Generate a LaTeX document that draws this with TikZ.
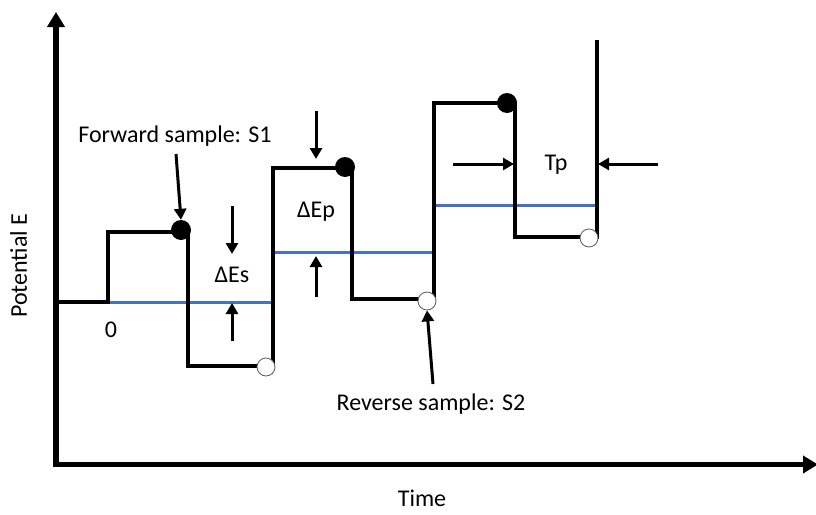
\documentclass[tikz,border=0pt]{standalone}
\usepackage{fontspec}
\setmainfont{Carlito}
\usetikzlibrary{arrows.meta}
\begin{document}
\begin{tikzpicture}[x=1pt,y=-1pt,
  axis/.style={line width=5.5pt,-{Triangle[length=15pt,width=17pt]}},
  wave/.style={line width=4pt,line join=miter},
  level/.style={line width=3pt,draw={rgb,255:red,68;green,114;blue,196}},
  marker/.style={line width=3pt,-{Triangle[length=11pt,width=12pt]}},
  fdot/.style={circle,fill=black,inner sep=0pt,minimum size=20pt},
  odot/.style={circle,fill=white,draw={rgb,255:red,90;green,90;blue,90},line width=0.8pt,inner sep=0pt,minimum size=18pt},
  lbl/.style={font=\fontsize{24}{28}\selectfont,inner sep=0pt,anchor=base}]
\useasboundingbox (0,0) rectangle (816,514);
% axes
\coordinate (ytop) at (56,12);
\coordinate (xend) at (818,464.5);
\draw[axis] (56,467.2) -- (ytop);
\draw[axis] (53.5,464.5) -- (xend);
% blue levels
\draw[level] (110,302) -- (272,302);
\draw[level] (275,252) -- (434,252);
\draw[level] (436,205) -- (597,205);
% waveform
\coordinate (w0) at (57,302);
\coordinate (w1) at (108,302);
\coordinate (w2) at (108,232);
\coordinate (w3) at (188,232);
\coordinate (w4) at (188,366);
\coordinate (w5) at (273,366);
\coordinate (w6) at (273,168);
\coordinate (w7) at (352,168);
\coordinate (w8) at (352,299);
\coordinate (w9) at (434,299);
\coordinate (w10) at (434,103);
\coordinate (w11) at (515,103);
\coordinate (w12) at (515,237);
\coordinate (w13) at (597,237);
\coordinate (w14) at (597,40);
\draw[wave] (w0) -- (w1) -- (w2) -- (w3) -- (w4) -- (w5) -- (w6) -- (w7) -- (w8) -- (w9) -- (w10) -- (w11) -- (w12) -- (w13) -- (w14);
% sample dots
\node[fdot] (f1) at (181,230) {};
\node[fdot] (f2) at (345,167) {};
\node[fdot] (f3) at (507,103) {};
\node[odot] (r1) at (266,367) {};
\node[odot] (r2) at (427,301) {};
\node[odot] (r3) at (589,238) {};
% labels
\node[lbl] (fs) at (175,142) {Forward sample: S1};
\node[lbl] (rs) at (431,410) {Reverse sample: S2};
\node[lbl] (zero) at (111,337) {0};
\node[lbl] (des) at (232,282) {ΔEs};
\node[lbl] (dep) at (316,217) {ΔEp};
\node[lbl] (tp) at (556,170) {Tp};
\node[lbl,rotate=90,anchor=base west] (pe) at (27,318) {Potential E};
\node[lbl] (time) at (422,506) {Time};
% pointer arrows
\coordinate (fsa) at (176,154);
\coordinate (rsa) at (433,384);
\draw[marker] (fsa) -- (f1.north);
\draw[marker] (rsa) -- (r2.south);
% delta Es
\coordinate (es1) at (232,206);
\coordinate (es2) at (232,254);
\coordinate (es3) at (232,341);
\coordinate (es4) at (232,303);
\draw[marker] (es1) -- (es2);
\draw[marker] (es3) -- (es4);
% delta Ep
\coordinate (ep1) at (316,111);
\coordinate (ep2) at (316,159);
\coordinate (ep3) at (316,297);
\coordinate (ep4) at (316,256);
\draw[marker] (ep1) -- (ep2);
\draw[marker] (ep3) -- (ep4);
% Tp
\coordinate (tp1) at (453,164);
\coordinate (tp2) at (514,164);
\coordinate (tp3) at (658,164);
\coordinate (tp4) at (598,164);
\draw[marker] (tp1) -- (tp2);
\draw[marker] (tp3) -- (tp4);
\end{tikzpicture}
\end{document}
